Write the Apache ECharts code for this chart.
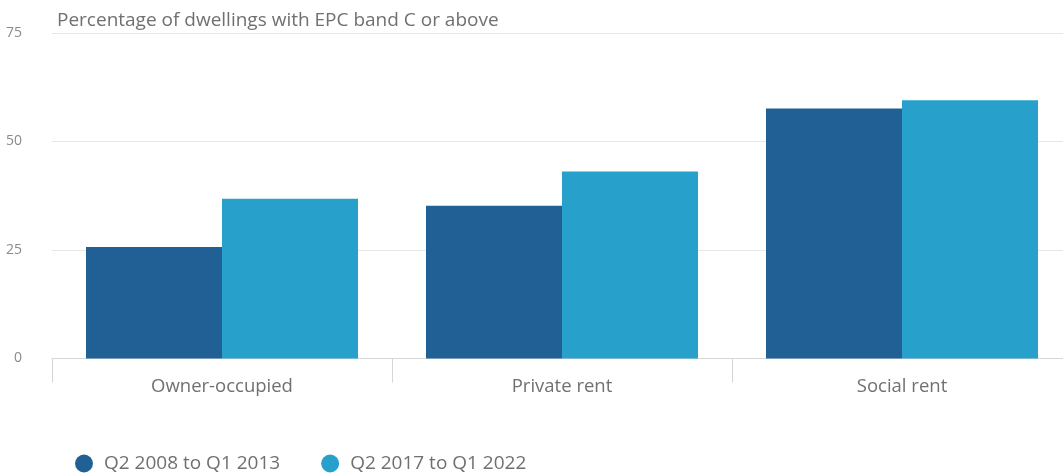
<!DOCTYPE html>
<html>
<head>
<meta charset="utf-8">
<script src="https://cdn.jsdelivr.net/npm/echarts@6/dist/echarts.min.js"></script>
<style>
  html, body { margin: 0; padding: 0; background: #fff; }
  #chart { width: 1063px; height: 474px; }
</style>
</head>
<body>
<div id="chart"></div>
<script>
// Tenure categories and the share of dwellings rated EPC band C or above (%)
const categories = ['Owner-occupied', 'Private rent', 'Social rent'];
const seriesNames = ['Q2 2008 to Q1 2013', 'Q2 2017 to Q1 2022'];
const period2008to2013 = [25.7, 35.2, 57.6];
const period2017to2022 = [36.8, 43.1, 59.5];
const yTicks = [0, 25, 50, 75];

const FONT = '"Open Sans", "Noto Sans", sans-serif';
const chart = echarts.init(document.getElementById('chart'), null, { renderer: 'canvas' });

chart.setOption({
  backgroundColor: '#ffffff',
  animation: false,
  title: {
    text: 'Percentage of dwellings with EPC band C or above',
    left: 52,
    top: 6,
    textStyle: { fontFamily: FONT, fontSize: 19, fontWeight: 'normal', color: '#707070' }
  },
  legend: {
    left: 70,
    top: 449,
    icon: 'circle',
    itemWidth: 18,
    itemHeight: 18,
    itemGap: 41,
    textStyle: { fontFamily: FONT, fontSize: 19, color: '#707070', padding: [0, 0, 0, 6] },
    data: seriesNames
  },
  // the plot runs a little past the right edge of the canvas
  grid: {
    left: 52, width: 1020, top: 33, bottom: 115.5,
    containLabel: false,
    outerBoundsMode: 'none'
  },
  xAxis: {
    type: 'category',
    data: categories,
    axisLine: { show: true, lineStyle: { color: '#d6d6d6', width: 1 } },
    axisTick: { show: true, length: 24, alignWithLabel: false, lineStyle: { color: '#d6d6d6' } },
    axisLabel: { fontFamily: FONT, fontSize: 18.5, color: '#707070', margin: 19 }
  },
  yAxis: {
    type: 'value',
    min: yTicks[0],
    max: yTicks[yTicks.length - 1],
    interval: yTicks[1] - yTicks[0],
    axisLine: { show: false },
    axisTick: { show: false },
    axisLabel: { fontFamily: FONT, fontSize: 14, color: '#8a8a8a', margin: 30 },
    splitLine: { show: true, lineStyle: { color: '#e6e6e6', width: 1 } }
  },
  series: [
    {
      name: seriesNames[0],
      type: 'bar',
      data: period2008to2013,
      barGap: '0%',
      barCategoryGap: '20%',
      itemStyle: { color: '#206095' }
    },
    {
      name: seriesNames[1],
      type: 'bar',
      data: period2017to2022,
      barGap: '0%',
      barCategoryGap: '20%',
      itemStyle: { color: '#27a0cc' }
    }
  ]
});
</script>
</body>
</html>
